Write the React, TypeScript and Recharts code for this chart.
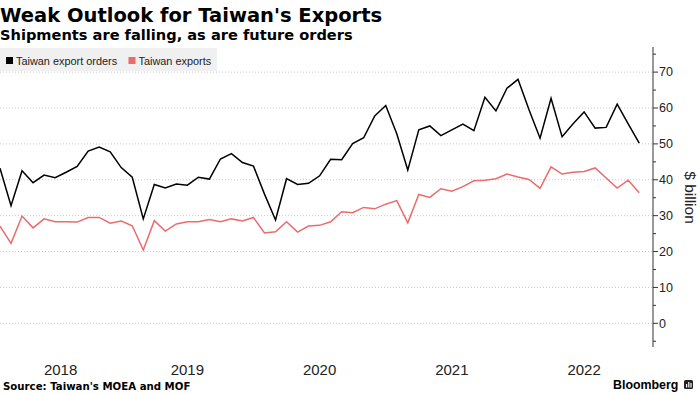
import { LineChart, Line, XAxis, YAxis, CartesianGrid } from 'recharts';

// monthly values, Jan 2018 .. Nov 2022, $ billion
const ORDERS = [
  43.2, 32.8, 42.5, 39.2, 41.3, 40.6, 42.1, 43.7, 48.0, 49.1, 47.8, 43.4,
  40.7, 29.1, 38.7, 37.7, 38.8, 38.5, 40.7, 40.2, 45.8, 47.3, 44.8, 43.8,
  36.0, 28.8, 40.3, 38.7, 39.0, 41.1, 45.7, 45.6, 50.1, 51.7, 57.8, 60.7,
  52.8, 42.7, 53.9, 55.0, 52.3, 53.9, 55.5, 53.7, 63.0, 59.2, 65.5, 68.0,
  59.5, 51.6, 62.7, 52.0, 55.6, 58.9, 54.4, 54.6, 61.1, 55.6, 50.2,
];
const EXPORTS = [
  27.1, 22.3, 29.9, 26.6, 29.1, 28.3, 28.3, 28.2, 29.5, 29.5, 27.9, 28.5,
  27.2, 20.4, 28.6, 25.7, 27.7, 28.3, 28.3, 28.9, 28.3, 29.1, 28.5, 29.5,
  25.2, 25.5, 28.3, 25.4, 27.1, 27.3, 28.3, 31.1, 30.8, 32.3, 31.9, 33.2,
  34.2, 28.0, 35.9, 35.1, 37.5, 36.8, 38.1, 39.7, 39.9, 40.3, 41.6, 40.8,
  40.1, 37.6, 43.6, 41.6, 42.1, 42.3, 43.3, 40.5, 37.7, 39.9, 36.4,
];
const YEAR_LABELS = ['2018', '2019', '2020', '2021', '2022'];
const YEAR_TICKS = [5.5, 17, 29, 41, 53];
const Y_TICKS = [-5, 0, 5, 10, 15, 20, 25, 30, 35, 40, 45, 50, 55, 60, 65, 70, 75];
const GRID_VALUES = [0, 10, 20, 30, 40, 50, 60, 70];

const data = ORDERS.map((v, i) => ({ i, orders: v, exports: EXPORTS[i] }));

const RED = '#ec6b6b';
const AXIS_FONT = "'Liberation Sans Narrow', 'Liberation Sans', Arial, sans-serif";
const BOLD_FONT = "'DejaVu Sans', Verdana, sans-serif";

const YearTick = ({ x, y, payload }: any) => (
  <text x={x} y={y + 28} textAnchor="middle" fontFamily={AXIS_FONT} fontSize={15} fill="#222">
    {YEAR_LABELS[YEAR_TICKS.indexOf(payload.value)]}
  </text>
);

const ValueTick = ({ x, y, payload }: any) => {
  const major = payload.value % 10 === 0;
  return (
    <g>
      <line x1={x} x2={x + (major ? 5 : 3)} y1={y} y2={y} stroke="#333" strokeWidth={1} />
      {major && (
        <text x={x + 6} y={y + 4.3} fontFamily={AXIS_FONT} fontSize={12.5} fill="#222">
          {payload.value}
        </text>
      )}
    </g>
  );
};

export default function App() {
  return (
    <div style={{ position: 'relative', width: 700, height: 394, background: '#fff' }}>
      <style>{'body{margin:0}'}</style>
      <LineChart width={700} height={394} data={data} margin={{ top: 47, right: 0, bottom: 0, left: 0 }}>
        <CartesianGrid
          vertical={false}
          horizontalValues={GRID_VALUES}
          stroke="#c8c8c8"
          strokeDasharray="1 2"
        />
        <XAxis
          dataKey="i"
          type="number"
          domain={[0, 59.25]}
          ticks={YEAR_TICKS}
          tick={<YearTick />}
          tickSize={0}
          tickMargin={0}
          axisLine={false}
          tickLine={false}
          height={47}
          interval={0}
        />
        <YAxis
          orientation="right"
          type="number"
          domain={[-6.6, 77]}
          allowDataOverflow
          ticks={Y_TICKS}
          tick={<ValueTick />}
          tickSize={0}
          tickMargin={0}
          tickLine={false}
          axisLine={{ stroke: '#333', strokeWidth: 1 }}
          width={47}
          interval={0}
        />
        <Line type="linear" dataKey="orders" stroke="#000" strokeWidth={1.5} dot={false} isAnimationActive={false} />
        <Line type="linear" dataKey="exports" stroke={RED} strokeWidth={1.5} dot={false} isAnimationActive={false} />
      </LineChart>
      <svg width={700} height={394} style={{ position: 'absolute', left: 0, top: 0, pointerEvents: 'none' }}>
        <text x={0} y={21.7} fontFamily={BOLD_FONT} fontWeight="bold" fontSize={19.5} fill="#000">
          Weak Outlook for Taiwan's Exports
        </text>
        <text x={0} y={39.5} fontFamily={BOLD_FONT} fontWeight="bold" fontSize={14.6} fill="#000">
          Shipments are falling, as are future orders
        </text>
        <rect x={0} y={48} width={217} height={23} fill="#f0f0f0" />
        <rect x={6} y={57} width={7} height={7} fill="#000" />
        <text x={16} y={64.7} fontFamily="'Liberation Sans', Arial, sans-serif" fontSize={10.9} fill="#222">
          Taiwan export orders
        </text>
        <rect x={128.5} y={57} width={7} height={7} fill={RED} />
        <text x={138.5} y={64.7} fontFamily="'Liberation Sans', Arial, sans-serif" fontSize={10.9} fill="#222">
          Taiwan exports
        </text>
        <text
          transform="translate(690.5,197.5) rotate(90)"
          textAnchor="middle"
          dominantBaseline="central"
          fontFamily="'Liberation Sans', Arial, sans-serif"
          fontSize={15.5}
          fill="#222"
        >
          $ billion
        </text>
        <text x={3} y={390} fontFamily={BOLD_FONT} fontWeight="bold" fontSize={10.2} fill="#000">
          Source: Taiwan's MOEA and MOF
        </text>
        <text x={613} y={389} fontFamily="'Liberation Sans', Arial, sans-serif" fontWeight="bold" fontSize={12.4} fill="#000">
          Bloomberg
        </text>
        <rect x={684} y={380} width={9} height={9} rx={1.5} fill="#222" />
        <rect x={686} y={384} width={1.2} height={3.5} fill="#fff" />
        <rect x={688.2} y={382} width={1.2} height={5.5} fill="#fff" />
        <rect x={690.4} y={383} width={1.2} height={4.5} fill="#fff" />
      </svg>
    </div>
  );
}
